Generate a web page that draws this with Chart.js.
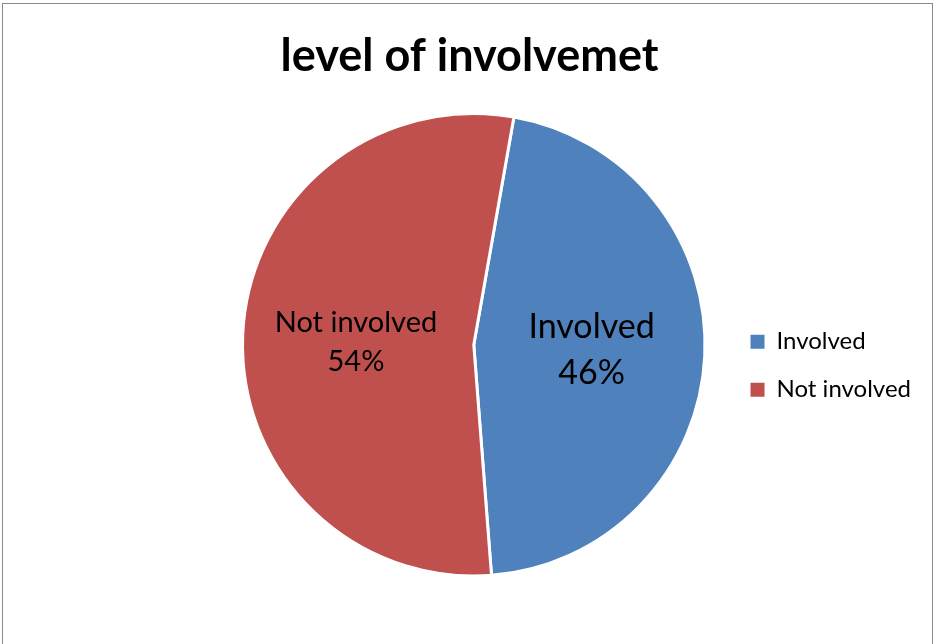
<!DOCTYPE html>
<html>
<head>
<meta charset="utf-8">
<script src="https://cdn.jsdelivr.net/npm/chart.js@4.4.1/dist/chart.umd.min.js"></script>
<style>
  html,body{margin:0;padding:0;background:#fff;overflow:hidden;}
  #frame{position:absolute;left:2px;top:3px;width:929px;height:700px;border:1px solid #8a8a8a;background:#fff;}
  #wrap{position:absolute;left:0;top:0;width:929px;height:640px;}
</style>
</head>
<body>
<div id="frame"><div id="wrap"><canvas id="pie"></canvas></div></div>
<script>
// Data
const chartTitle = 'level of involvemet';
const categories = ['Involved', 'Not involved'];
const shares = [46, 54];
const sliceColors = ['#4F81BD', '#C0504D'];

// Title centred on the whole canvas (Chart.js title would centre it over the padded area)
const canvasTitle = {
  id: 'canvasTitle',
  afterDraw(chart){
    const ctx = chart.ctx;
    ctx.save();
    ctx.fillStyle = '#000';
    ctx.font = 'bold 45px Lato';
    ctx.textAlign = 'center';
    ctx.textBaseline = 'alphabetic';
    ctx.fillText(chartTitle, chart.width / 2 + 2, 67);
    ctx.restore();
  }
};

// Draws "Category\nNN%" inside each slice
const sliceLabels = {
  id: 'sliceLabels',
  afterDatasetsDraw(chart){
    const ctx = chart.ctx;
    const meta = chart.getDatasetMeta(0);
    const total = shares.reduce((a,b)=>a+b,0);
    meta.data.forEach((arc, i)=>{
      const p = arc.getProps(['x','y','startAngle','endAngle','outerRadius'], true);
      const mid = (p.startAngle + p.endAngle) / 2;
      const r = p.outerRadius * 0.51;
      const x = p.x + Math.cos(mid) * r;
      const y = p.y + Math.sin(mid) * r + (i === 0 ? 0 : 3);
      const size = i === 0 ? 34 : 29;
      const gap = i === 0 ? 46 : 39;
      ctx.save();
      ctx.fillStyle = '#000';
      ctx.font = size + 'px Lato';
      ctx.textAlign = 'center';
      ctx.textBaseline = 'middle';
      ctx.fillText(categories[i], x, y - gap/2);
      ctx.fillText(Math.round(shares[i] / total * 100) + '%', x, y + gap/2);
      ctx.restore();
    });
  }
};

const chart = new Chart(document.getElementById('pie'), {
  type: 'pie',
  data: {
    labels: categories,
    datasets: [{
      data: shares,
      backgroundColor: sliceColors,
      borderColor: '#fff',
      borderWidth: 3
    }]
  },
  options: {
    responsive: true,
    maintainAspectRatio: false,
    animation: false,
    rotation: 10,
    layout: {padding: {left: 218, right: 11, top: 108, bottom: 66.5}},
    plugins: {
      title: {display: false},
      legend: {
        position: 'right',
        title: {display: true, text: '', font: {size: 10}, padding: {top: 30, bottom: 0}},
        labels: {
          color: '#000',
          font: {family: 'Lato', size: 24},
          boxWidth: 14,
          boxHeight: 14,
          padding: 24,
          generateLabels(chart){
            return Chart.overrides.pie.plugins.legend.labels.generateLabels(chart)
              .map(item => Object.assign(item, {lineWidth: 0, strokeStyle: item.fillStyle}));
          }
        }
      },
      tooltip: {enabled: false}
    }
  },
  plugins: [sliceLabels, canvasTitle]
});
</script>
</body>
</html>
